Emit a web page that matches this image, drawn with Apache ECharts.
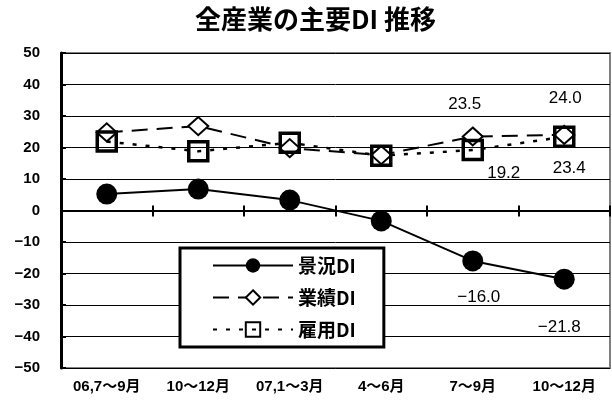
<!DOCTYPE html>
<html>
<head>
<meta charset="utf-8">
<style>
  html, body { margin: 0; padding: 0; background: #fff; }
  #chart { width: 612px; height: 403px; }
</style>
<script src="https://cdn.jsdelivr.net/npm/echarts@6/dist/echarts.min.js"></script>
</head>
<body>
<div id="chart"></div>
<script>
// 期間
var categories = ['06,7～9月', '10～12月', '07,1～3月', '4～6月', '7～9月', '10～12月'];
// 各DI（全産業）
var keikyoDI = [5.2, 6.8, 3.3, -3.3, -16.0, -21.8];
var gyosekiDI = [24.8, 26.8, 19.8, 17.6, 23.5, 24.0];
var koyoDI = [21.9, 18.8, 21.5, 17.4, 19.2, 23.4];
var yTicks = [-50, -40, -30, -20, -10, 0, 10, 20, 30, 40, 50];

var JP = "'Noto Sans CJK JP'";
var NUM = "'Liberation Sans', 'Noto Sans CJK JP'";

function fmt(v) {
  return String(v).replace('-', '\u2212');
}

// 数値ラベルを出す点と位置（点中心からのずれ）
var labelOffsets = {
  keikyo: { 4: [6, 36], 5: [-5, 48] },
  gyoseki: { 4: [-8, -32], 5: [1, -37] },
  koyo: { 4: [31, 23], 5: [5, 32] }
};

function buildData(values, key) {
  return values.map(function (v, i) {
    var off = labelOffsets[key][i];
    if (!off) return v;
    return {
      value: v,
      label: {
        show: true,
        position: 'inside',
        offset: off,
        formatter: function (p) { return fmt(p.value.toFixed(1)); },
        color: '#000',
        fontFamily: NUM,
        fontSize: 17
      }
    };
  });
}

var chart = echarts.init(document.getElementById('chart'));
var option = {
  animation: false,
  backgroundColor: '#fff',
  title: {
    text: '全産業の主要DI 推移',
    left: 190,
    top: 1,
    textStyle: { fontFamily: JP, fontWeight: 'bold', fontSize: 26, color: '#000' }
  },
  legend: {
    orient: 'vertical',
    left: 180,
    top: 248,
    itemWidth: 80,
    itemHeight: 18,
    itemGap: 13,
    padding: [8, 28, 8, 32],
    backgroundColor: '#fff',
    borderColor: '#000',
    borderWidth: 3,
    textStyle: { fontFamily: JP, fontWeight: 'bold', fontSize: 19, color: '#000' },
    data: ['景況DI', '業績DI', '雇用DI']
  },
  grid: {
    left: 61, right: 2, top: 53, bottom: 35,
    show: true,
    borderColor: '#808080',
    borderWidth: 2
  },
  xAxis: [
    {
      type: 'category',
      data: categories,
      position: 'bottom',
      axisLine: { show: false, onZero: false },
      axisTick: { show: false },
      splitLine: { show: false },
      axisLabel: { interval: 0, margin: 11, color: '#000', fontFamily: NUM, fontWeight: 'bold', fontSize: 15 }
    },
    {
      type: 'category',
      data: categories,
      position: 'bottom',
      axisLine: { show: true, onZero: true, onZeroAxisIndex: 0, lineStyle: { color: '#000', width: 2 } },
      axisTick: { show: true, inside: true, length: 5, lineStyle: { color: '#000', width: 2 } },
      axisLabel: { show: false },
      splitLine: { show: false }
    },
    {
      type: 'category',
      data: categories,
      position: 'bottom',
      axisLine: { show: false, onZero: true, onZeroAxisIndex: 0 },
      axisTick: { show: true, length: 6, lineStyle: { color: '#000', width: 2 } },
      axisLabel: { show: false },
      splitLine: { show: false }
    }
  ],
  yAxis: {
    type: 'value',
    min: yTicks[0],
    max: yTicks[yTicks.length - 1],
    interval: 10,
    axisLine: { show: true, lineStyle: { color: '#000', width: 3 } },
    axisTick: { show: true, inside: true, length: 5, lineStyle: { color: '#000', width: 2 } },
    splitLine: { show: true, lineStyle: { color: '#000', width: 1 } },
    axisLabel: {
      margin: 21, color: '#000', fontFamily: NUM, fontWeight: 'bold', fontSize: 15,
      formatter: function (v) { return fmt(v); }
    }
  },
  series: [
    {
      name: '景況DI',
      type: 'line',
      data: buildData(keikyoDI, 'keikyo'),
      symbol: 'circle',
      symbolSize: 21,
      itemStyle: { color: '#000' },
      lineStyle: { color: '#000', width: 2 }
    },
    {
      name: '業績DI',
      type: 'line',
      data: buildData(gyosekiDI, 'gyoseki'),
      symbol: 'diamond',
      symbolSize: [20, 18],
      itemStyle: { color: '#fff', borderColor: '#000', borderWidth: 2 },
      lineStyle: { color: '#000', width: 2, type: [16, 9] }
    },
    {
      name: '雇用DI',
      type: 'line',
      data: buildData(koyoDI, 'koyo'),
      symbol: 'rect',
      symbolSize: 19,
      itemStyle: { color: 'rgba(255,255,255,0)', borderColor: '#000', borderWidth: 3.5 },
      lineStyle: { color: '#000', width: 2.5, type: [4, 9] }
    }
  ]
};
chart.setOption(option);
</script>
</body>
</html>
